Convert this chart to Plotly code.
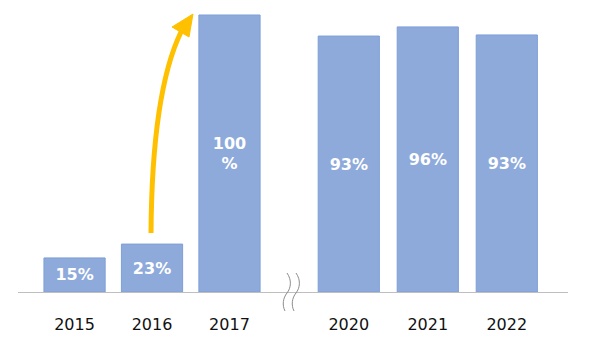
import plotly.graph_objects as go

# ---- data ----
years = ["2015", "2016", "2017", "2020", "2021", "2022"]
x_pos = [0, 1, 2, 3.54, 4.56, 5.58]          # category slots (gap = axis break)
bar_heights = [12.3, 17.3, 100, 92.4, 95.7, 92.8]   # drawn heights
bar_labels = ["15%", "23%", "100<br>%", "93%", "96%", "93%"]

# ---- geometry (page has an 8px body margin) ----
OFF = 8
W, H = 612 - OFF, 358 - OFF
L, R, T = 18 - OFF, 44, 0
PH = 292 - OFF            # plot bottom (baseline) in figure px
B = H - PH
PW = W - L - R


def px(x):  # screen px -> paper
    return (x - OFF - L) / PW


def py(y):
    return (PH - (y - OFF)) / PH


def path(cmds):
    out = []
    for c in cmds:
        if isinstance(c, str):
            out.append(c)
        else:
            out.append(f"{px(c[0]):.5f},{py(c[1]):.5f}")
    return " ".join(out)


fig = go.Figure()
fig.add_trace(go.Bar(
    x=x_pos, y=bar_heights, width=0.79,
    text=bar_labels, textposition="inside", insidetextanchor="middle",
    textangle=0,
    insidetextfont=dict(family="DejaVu Sans", size=16, color="white", weight="bold"),
    marker=dict(color="#8EAADB", line=dict(color="#7F9FD6", width=1)),
    hoverinfo="skip",
))

shapes = []
# axis-break wavy marks
for dx in (0, 9):
    shapes.append(dict(
        type="path", xref="paper", yref="paper",
        path=path(["M", (287 + dx, 273), "C", (292 + dx, 280), (291 + dx, 288), (287 + dx, 293),
                   "C", (283 + dx, 298), (282 + dx, 305), (285 + dx, 311)]),
        line=dict(color="#8C8C8C", width=1)))
# orange arrow shaft
shapes.append(dict(
    type="path", xref="paper", yref="paper",
    path=path(["M", (151, 233), "Q", (152, 92), (181, 32)]),
    line=dict(color="#FFC000", width=5)))
# arrow head
shapes.append(dict(
    type="path", xref="paper", yref="paper",
    path=path(["M", (193, 14), "L", (172, 27), "L", (189, 37), "Z"]),
    fillcolor="#FFC000", line=dict(color="#FFC000", width=1)))

fig.update_layout(
    width=W, height=H,
    margin=dict(l=L, r=R, t=T, b=B, autoexpand=False),
    plot_bgcolor="white", paper_bgcolor="white",
    showlegend=False,
    shapes=shapes,
    xaxis=dict(range=[-0.73, 6.37], tickvals=x_pos, ticktext=years,
               showgrid=False, zeroline=False, showline=True,
               linecolor="#BFBFBF", linewidth=1, ticks="",
               ticklabelstandoff=18,
               tickfont=dict(family="DejaVu Sans", size=16, color="#111111")),
    yaxis=dict(range=[0, 100 * PH / 277], visible=False),
)

fig.write_html("out.html")
